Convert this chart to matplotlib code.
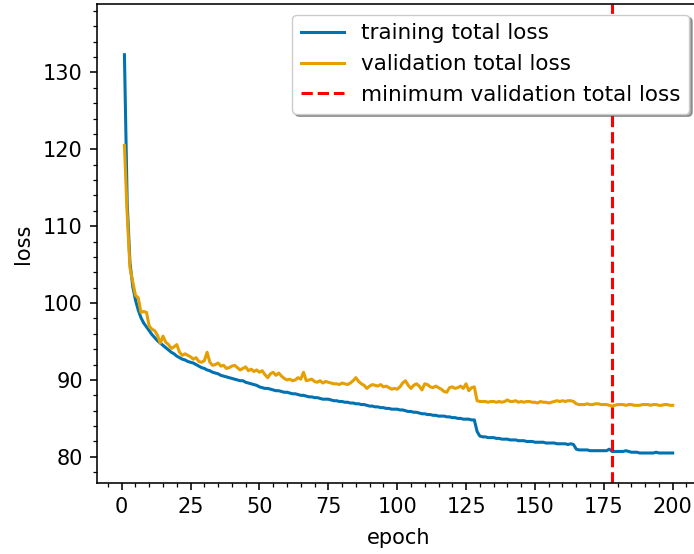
# Import necessary libraries
import numpy as np
import matplotlib.pyplot as plt
from matplotlib.ticker import AutoMinorLocator

# Loss history per epoch
epochs = np.arange(1, 201)

train_loss = [
    132.3, 113.0, 105.3, 102.2, 100.4, 99.1, 98.1, 97.4, 96.9, 96.4,
    95.9, 95.5, 95.1, 94.8, 94.5, 94.2, 93.9, 93.6, 93.4, 93.1,
    92.9, 92.7, 92.6, 92.4, 92.3, 92.2, 92.0, 91.8, 91.6, 91.5,
    91.3, 91.2, 91.0, 90.9, 90.8, 90.6, 90.5, 90.4, 90.3, 90.2,
    90.1, 90.0, 89.9, 89.9, 89.7, 89.6, 89.5, 89.4, 89.3, 89.1,
    89.0, 88.9, 88.9, 88.8, 88.7, 88.6, 88.6, 88.5, 88.4, 88.4,
    88.3, 88.2, 88.2, 88.1, 88.0, 88.0, 87.9, 87.8, 87.8, 87.7,
    87.7, 87.6, 87.5, 87.5, 87.5, 87.4, 87.3, 87.3, 87.2, 87.2,
    87.1, 87.1, 87.0, 87.0, 86.9, 86.9, 86.8, 86.8, 86.7, 86.6,
    86.6, 86.5, 86.5, 86.4, 86.4, 86.3, 86.3, 86.2, 86.2, 86.2,
    86.1, 86.1, 86.0, 85.9, 85.9, 85.8, 85.8, 85.7, 85.6, 85.6,
    85.5, 85.5, 85.4, 85.4, 85.3, 85.3, 85.3, 85.2, 85.2, 85.1,
    85.1, 85.0, 85.0, 84.9, 84.9, 84.9, 84.8, 84.8, 83.3, 82.7,
    82.6, 82.6, 82.5, 82.5, 82.5, 82.4, 82.4, 82.3, 82.3, 82.3,
    82.2, 82.2, 82.2, 82.1, 82.1, 82.1, 82.0, 82.0, 82.0, 81.9,
    81.9, 81.9, 81.9, 81.8, 81.8, 81.8, 81.8, 81.7, 81.7, 81.7,
    81.7, 81.6, 81.7, 81.6, 81.0, 80.9, 80.9, 80.9, 80.9, 80.8,
    80.8, 80.8, 80.8, 80.8, 80.8, 80.8, 81.0, 80.7, 80.7, 80.7,
    80.7, 80.7, 80.8, 80.7, 80.6, 80.6, 80.6, 80.5, 80.5, 80.5,
    80.5, 80.5, 80.5, 80.6, 80.5, 80.5, 80.5, 80.5, 80.5, 80.5,
]

val_loss = [
    120.5, 111.5, 104.6, 102.8, 101.0, 100.7, 98.8, 98.9, 98.8, 97.0,
    96.6, 96.4, 95.8, 94.8, 95.7, 94.9, 94.6, 94.1, 94.3, 94.6,
    93.6, 93.2, 93.4, 93.2, 93.0, 92.7, 92.9, 92.4, 92.3, 92.5,
    93.6, 92.3, 91.9, 92.0, 92.2, 91.8, 91.9, 91.5, 91.6, 91.8,
    91.9, 91.6, 91.3, 91.5, 91.7, 91.2, 91.4, 91.1, 91.3, 91.0,
    91.2, 90.7, 90.3, 90.8, 91.0, 90.6, 90.9, 90.5, 90.2, 90.0,
    90.1, 89.9, 90.0, 90.3, 90.1, 91.0, 89.9, 90.0, 90.1, 89.8,
    89.7, 89.9, 89.6, 89.8, 89.7, 89.6, 89.5, 89.5, 89.4, 89.6,
    89.5, 89.4, 89.6, 89.9, 90.3, 89.8, 89.5, 89.3, 88.9, 89.2,
    89.4, 89.3, 89.2, 89.4, 89.1, 89.2, 89.0, 88.8, 88.9, 88.8,
    89.1, 89.6, 89.9, 89.3, 88.9, 89.3, 89.5, 89.2, 88.7, 89.5,
    89.4, 89.1, 89.0, 89.2, 89.0, 88.8, 88.5, 88.4, 89.0, 89.1,
    88.9, 89.0, 89.2, 88.9, 89.5, 88.6, 89.0, 89.1, 87.3, 87.2,
    87.2, 87.2, 87.1, 87.2, 87.2, 87.1, 87.2, 87.1, 87.2, 87.4,
    87.2, 87.2, 87.3, 87.1, 87.2, 87.1, 87.2, 87.2, 87.1, 87.1,
    87.0, 87.2, 87.1, 87.1, 87.0, 87.1, 87.2, 87.3, 87.2, 87.3,
    87.2, 87.3, 87.3, 87.2, 86.9, 86.8, 86.8, 86.8, 86.9, 86.8,
    86.8, 86.9, 86.9, 86.8, 86.8, 86.8, 86.7, 86.6, 86.7, 86.8,
    86.8, 86.8, 86.7, 86.8, 86.8, 86.7, 86.7, 86.7, 86.8, 86.8,
    86.8, 86.7, 86.8, 86.8, 86.7, 86.7, 86.8, 86.8, 86.7, 86.7,
]

# Epoch with the lowest validation loss
best_epoch = epochs[np.argmin(val_loss)]

plt.rcParams['font.size'] = 15
plt.rcParams['axes.linewidth'] = 1.15
plt.rcParams['xtick.major.size'] = 5.2
plt.rcParams['ytick.major.size'] = 5.2
plt.rcParams['xtick.minor.size'] = 2.9
plt.rcParams['ytick.minor.size'] = 2.9
plt.rcParams['xtick.major.pad'] = 5.0
plt.rcParams['ytick.major.pad'] = 5.0
plt.rcParams['xtick.major.width'] = 1.15
plt.rcParams['ytick.major.width'] = 1.15
plt.rcParams['xtick.minor.width'] = 0.9
plt.rcParams['ytick.minor.width'] = 0.9

fig = plt.figure(figsize=(6.94, 5.54), dpi=100)
ax = fig.add_axes([0.1398, 0.1282, 0.869, 0.8646])

ax.plot(epochs, train_loss, color='#0072B2', linewidth=2.2, label="training total loss")
ax.plot(epochs, val_loss, color='#E69F00', linewidth=2.2, label="validation total loss")
ax.axvline(best_epoch, color='red', linestyle='--', linewidth=2.2,
           label="minimum validation total loss")

ax.set_ylim(76.6, 138.9)
ax.xaxis.set_minor_locator(AutoMinorLocator(5))
ax.yaxis.set_minor_locator(AutoMinorLocator(5))
ax.set_xlabel("epoch", labelpad=8)
ax.set_ylabel("loss", labelpad=7)
ax.legend(loc='upper right', shadow=True, fontsize=15.5)

fig.savefig("out.png", dpi=100)
